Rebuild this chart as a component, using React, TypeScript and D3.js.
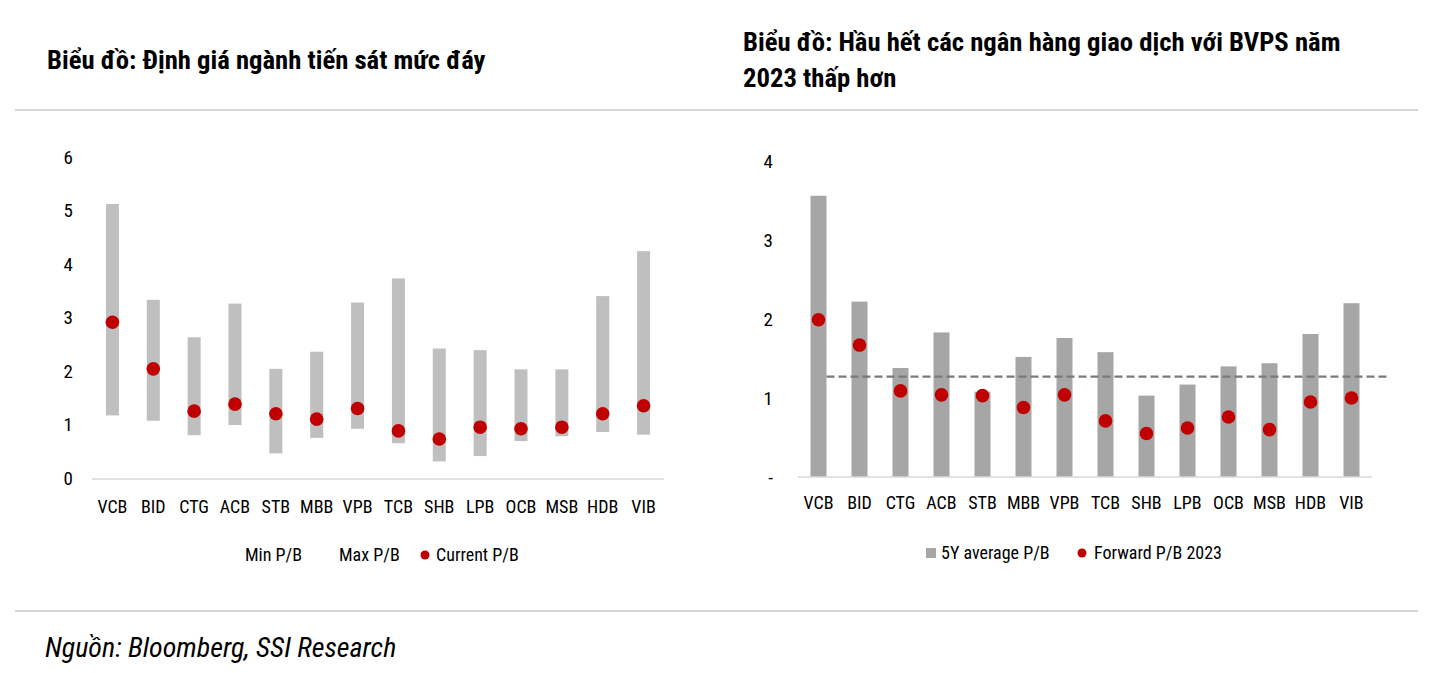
import React from 'react';
import * as d3 from 'd3';

const banks = ['VCB', 'BID', 'CTG', 'ACB', 'STB', 'MBB', 'VPB', 'TCB', 'SHB', 'LPB', 'OCB', 'MSB', 'HDB', 'VIB'];

// left chart: P/B range and current
const minPB = [1.17, 1.07, 0.8, 0.99, 0.46, 0.75, 0.92, 0.65, 0.31, 0.41, 0.69, 0.78, 0.86, 0.81];
const maxPB = [5.12, 3.33, 2.63, 3.26, 2.04, 2.36, 3.28, 3.73, 2.42, 2.39, 2.03, 2.03, 3.4, 4.24];
const currentPB = [2.91, 2.04, 1.25, 1.38, 1.2, 1.1, 1.3, 0.88, 0.73, 0.95, 0.92, 0.95, 1.2, 1.35];
const leftTicks = [0, 1, 2, 3, 4, 5, 6];

// right chart: 5Y average vs forward 2023
const avg5Y = [3.56, 2.22, 1.38, 1.83, 1.08, 1.52, 1.76, 1.58, 1.03, 1.17, 1.4, 1.44, 1.81, 2.2];
const forwardPB = [1.99, 1.67, 1.09, 1.04, 1.03, 0.88, 1.04, 0.71, 0.55, 0.62, 0.76, 0.6, 0.95, 1.0];
const sectorAvg = 1.27;
const rightTicks = [0, 1, 2, 3, 4];

const FONT = "'Liberation Sans Narrow', 'Arial Narrow', 'Roboto Condensed', sans-serif";
const RED = '#c00000';

export default function App() {
  // left scales
  const xL = d3.scaleBand<string>().domain(banks).range([92, 664]);
  const yL = d3.scaleLinear().domain([0, 6]).range([478, 157]);
  // right scales
  const xR = d3.scaleBand<string>().domain(banks).range([798, 1372]);
  const yR = d3.scaleLinear().domain([0, 4]).range([477, 161]);

  return (
    <svg
      width={1429}
      height={673}
      style={{ position: 'absolute', left: 0, top: 0, background: '#fff' }}
      fontFamily={FONT}
    >
      {/* titles */}
      <text x={47} y={69} fontSize={26.7} fontWeight="bold" fill="#000">
        Biểu đồ: Định giá ngành tiến sát mức đáy
      </text>
      <text x={743} y={51} fontSize={26.7} fontWeight="bold" fill="#000">
        Biểu đồ: Hầu hết các ngân hàng giao dịch với BVPS năm
      </text>
      <text x={743} y={87} fontSize={26.7} fontWeight="bold" fill="#000">
        2023 thấp hơn
      </text>
      <line x1={15} x2={1418} y1={110} y2={110} stroke="#c8c8c8" strokeWidth={1.5} />
      <line x1={15} x2={1418} y1={611} y2={611} stroke="#c8c8c8" strokeWidth={1.5} />

      {/* left chart */}
      <g>
        {leftTicks.map(t => (
          <text key={t} x={73} y={yL(t)} dy="0.35em" textAnchor="end" fontSize={19} fill="#000">
            {t}
          </text>
        ))}
        <line x1={92} x2={664} y1={yL(0) + 1} y2={yL(0) + 1} stroke="#d9d9d9" strokeWidth={1.5} />
        {banks.map((b, i) => {
          const cx = xL(b)! + xL.bandwidth() / 2;
          return (
            <g key={b}>
              <rect x={cx - 6.5} width={13} y={yL(maxPB[i])} height={yL(minPB[i]) - yL(maxPB[i])} fill="#bfbfbf" />
              <circle cx={cx} cy={yL(currentPB[i])} r={6.8} fill={RED} />
              <text x={cx} y={507} dy="0.35em" textAnchor="middle" fontSize={18} fill="#000">
                {b}
              </text>
            </g>
          );
        })}
        <text x={245} y={555} dy="0.35em" fontSize={18} fill="#000">Min P/B</text>
        <text x={339} y={555} dy="0.35em" fontSize={18} fill="#000">Max P/B</text>
        <circle cx={425} cy={555} r={4.5} fill={RED} />
        <text x={436} y={555} dy="0.35em" fontSize={18} fill="#000">Current P/B</text>
      </g>

      {/* right chart */}
      <g>
        {rightTicks.map(t => (
          <text key={t} x={773} y={yR(t)} dy="0.35em" textAnchor="end" fontSize={19} fill="#000">
            {t === 0 ? '-' : t}
          </text>
        ))}
        {banks.map((b, i) => {
          const cx = xR(b)! + xR.bandwidth() / 2;
          return (
            <g key={b}>
              <rect x={cx - 8} width={16} y={yR(avg5Y[i])} height={yR(0) - yR(avg5Y[i])} fill="#a6a6a6" />
              <text x={cx} y={503} dy="0.35em" textAnchor="middle" fontSize={18} fill="#000">
                {b}
              </text>
            </g>
          );
        })}
        <line x1={798} x2={1372} y1={yR(0)} y2={yR(0)} stroke="#d9d9d9" strokeWidth={1.5} />
        <line
          x1={xR('VCB')! + xR.bandwidth() / 2 + 8}
          x2={1390}
          y1={yR(sectorAvg)}
          y2={yR(sectorAvg)}
          stroke="#7a7a7a"
          strokeWidth={2.2}
          strokeDasharray="8 4"
        />
        {banks.map((b, i) => (
          <circle key={b} cx={xR(b)! + xR.bandwidth() / 2} cy={yR(forwardPB[i])} r={6.8} fill={RED} />
        ))}
        <rect x={926} y={548} width={10} height={10} fill="#a6a6a6" />
        <text x={941} y={553} dy="0.35em" fontSize={18} fill="#000">5Y average P/B</text>
        <circle cx={1082} cy={553} r={4.5} fill={RED} />
        <text x={1094} y={553} dy="0.35em" fontSize={18} fill="#000">Forward P/B 2023</text>
      </g>

      <text x={45} y={657} fontSize={28} fontStyle="italic" fill="#000">
        Nguồn: Bloomberg, SSI Research
      </text>
    </svg>
  );
}
